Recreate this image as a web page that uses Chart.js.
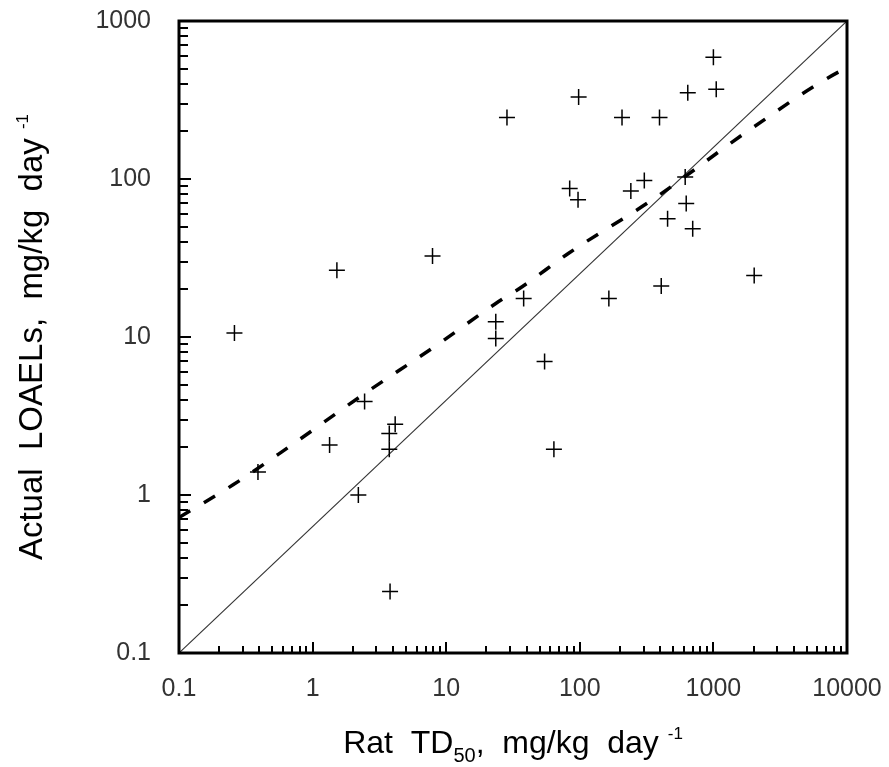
<!DOCTYPE html>
<html>
<head>
<meta charset="utf-8">
<script src="https://cdn.jsdelivr.net/npm/chart.js@4.4.0/dist/chart.umd.min.js"></script>
<style>
  html, body { margin: 0; padding: 0; background: #fff; }
  #wrap { width: 889px; height: 767px; position: relative; }
</style>
</head>
<body>
<div id="wrap"><canvas id="c" width="889" height="767"></canvas></div>
<script>
// Observed data: rat TD50 (x) vs actual LOAEL (y), mg/kg/day
const ratTD50 = [0.26, 0.39, 1.34, 1.52, 2.2, 2.45, 3.75, 3.75, 3.8, 4.15,
                 7.9, 23.5, 23.5, 28.5, 38, 54.5, 64, 84, 97, 98,
                 165, 207, 241, 304, 395, 407, 454, 615, 626, 643,
                 700, 1000, 1050, 2020];
const loael   = [10.6, 1.4, 2.07, 26.5, 1.0, 3.9, 2.45, 1.95, 0.245, 2.8,
                 32.6, 12.5, 9.8, 245, 17.5, 7.0, 1.95, 87, 74, 330,
                 17.5, 245, 84, 98, 245, 21, 56, 103, 70, 352,
                 48.5, 590, 370, 24.5];

// Solid reference line (corner to corner)
const lineX = [0.1, 10000];
const lineY = [0.1, 1000];

// Dashed fitted curve
const fitX = [0.1, 0.254, 0.618, 2.37, 8.87, 23.5, 37, 83, 350, 1932, 8470, 10000];
const fitY = [0.72, 1.16, 1.93, 4.3, 9.1, 16.3, 20.8, 34, 74, 209, 471, 500];

// Tick labels
const xTickVals = [0.1, 1, 10, 100, 1000, 10000];
const yTickVals = [0.1, 1, 10, 100, 1000];
const xTickLabels = ['0.1', '1', '10', '100', '1000', '10000'];
const yTickLabels = ['0.1', '1', '10', '100', '1000'];

const FONT = '"Liberation Sans", Arial, sans-serif';

function pts(xs, ys) { return xs.map((v, i) => ({ x: v, y: ys[i] })); }

const frameTicks = {
  id: 'frameTicks',
  afterDraw(chart) {
    const { ctx, chartArea: a, scales: { x, y } } = chart;
    ctx.save();
    ctx.strokeStyle = '#000';
    ctx.lineWidth = 2;
    ctx.beginPath();
    for (let e = -1; e < 4; e++) {
      for (let m = 1; m < 10; m++) {
        const v = m * Math.pow(10, e);
        const px = Math.round(x.getPixelForValue(v));
        const len = m === 1 ? 11 : 7;
        ctx.moveTo(px, a.bottom);
        ctx.lineTo(px, a.bottom - len);
      }
    }
    for (let e = -1; e < 3; e++) {
      for (let m = 1; m < 10; m++) {
        const v = m * Math.pow(10, e);
        const py = Math.round(y.getPixelForValue(v));
        const len = m === 1 ? 12 : 9;
        ctx.moveTo(a.left, py);
        ctx.lineTo(a.left + len, py);
      }
    }
    ctx.stroke();
    ctx.lineWidth = 3;
    ctx.strokeRect(a.left, a.top, a.right - a.left, a.bottom - a.top);
    ctx.restore();
  }
};

function drawSegments(ctx, segs, cx, by) {
  let total = 0;
  segs.forEach(s => { ctx.font = s.size + 'px ' + FONT; s.w = ctx.measureText(s.text).width; total += s.w; });
  let xx = cx - total / 2;
  segs.forEach(s => {
    ctx.font = s.size + 'px ' + FONT;
    ctx.fillText(s.text, xx, by + (s.dy || 0));
    xx += s.w;
  });
}

const axisTitles = {
  id: 'axisTitles',
  afterDraw(chart) {
    const { ctx, chartArea: a } = chart;
    ctx.save();
    ctx.fillStyle = '#000';
    ctx.textBaseline = 'alphabetic';
    ctx.textAlign = 'left';
    const cx = (a.left + a.right) / 2;
    drawSegments(ctx, [
      { text: 'Rat  TD', size: 32 },
      { text: '50', size: 20, dy: 9 },
      { text: ',  mg/kg  day ', size: 32 },
      { text: '-1', size: 17, dy: -14 }
    ], cx, 753);
    ctx.translate(42, (a.top + a.bottom) / 2);
    ctx.rotate(-Math.PI / 2);
    drawSegments(ctx, [
      { text: 'Actual  LOAELs,  mg/kg  day ', size: 33 },
      { text: '-1', size: 17, dy: -14 }
    ], 0, 0);
    ctx.restore();
  }
};

function zeroPad(s) { s.paddingTop = 0; s.paddingBottom = 0; s.paddingLeft = 0; s.paddingRight = 0; }

new Chart(document.getElementById('c'), {
  type: 'scatter',
  data: {
    datasets: [
      {
        data: pts(ratTD50, loael),
        pointStyle: 'cross',
        pointRadius: 8,
        pointBorderWidth: 1.5,
        borderColor: '#000',
        backgroundColor: '#000',
        showLine: false,
        order: 0
      },
      {
        data: pts(lineX, lineY),
        showLine: true,
        pointRadius: 0,
        borderColor: '#333',
        borderWidth: 1.1,
        order: 2
      },
      {
        data: pts(fitX, fitY),
        showLine: true,
        pointRadius: 0,
        borderColor: '#000',
        borderWidth: 3.5,
        borderDash: [13, 16],
        tension: 0.3,
        cubicInterpolationMode: 'monotone',
        order: 1
      }
    ]
  },
  options: {
    responsive: false,
    animation: false,
    devicePixelRatio: 1,
    layout: { padding: { top: 21, right: 42, left: 0, bottom: 0 } },
    plugins: { legend: { display: false }, tooltip: { enabled: false } },
    scales: {
      x: {
        type: 'logarithmic',
        min: 0.1, max: 10000,
        grid: { display: false },
        border: { display: false },
        afterBuildTicks: s => { s.ticks = xTickVals.map(v => ({ value: v })); },
        afterFit: s => { s.height = 114; zeroPad(s); },
        ticks: {
          autoSkip: false, maxRotation: 0, padding: 13,
          color: '#333', font: { family: FONT, size: 25 },
          callback: (v) => { const i = xTickVals.indexOf(v); return i >= 0 ? xTickLabels[i] : ''; }
        }
      },
      y: {
        type: 'logarithmic',
        min: 0.1, max: 1000,
        grid: { display: false },
        border: { display: false },
        afterBuildTicks: s => { s.ticks = yTickVals.map(v => ({ value: v })); },
        afterFit: s => { s.width = 179; zeroPad(s); },
        ticks: {
          autoSkip: false, padding: 20,
          color: '#333', font: { family: FONT, size: 25 },
          callback: (v) => { const i = yTickVals.indexOf(v); return i >= 0 ? yTickLabels[i] : ''; }
        }
      }
    }
  },
  plugins: [frameTicks, axisTitles]
});
</script>
</body>
</html>
